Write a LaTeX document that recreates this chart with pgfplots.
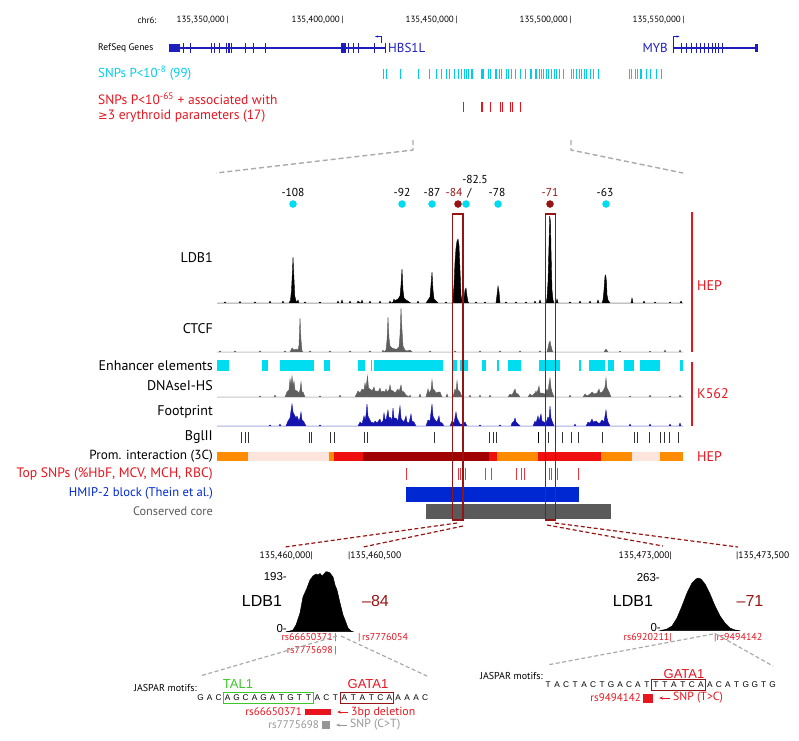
\documentclass[border=0pt]{standalone}
\usepackage{pgfplots}
\pgfplotsset{compat=1.18}
\usetikzlibrary{arrows.meta}
\usepackage{fontspec}
\setmainfont{PT Sans}
\newfontfamily\arial{Liberation Sans}
\newfontfamily\dejavu{DejaVu Sans}
\newcommand\fs[1]{\fontsize{#1}{#1}\selectfont}
\definecolor{gblue}{RGB}{30,30,190}
\definecolor{snpcyan}{RGB}{0,205,235}
\definecolor{encyan}{RGB}{0,220,240}
\definecolor{myred}{RGB}{232,20,30}
\definecolor{dred}{RGB}{150,20,20}
\definecolor{trgray}{RGB}{95,95,95}
\definecolor{fpblue}{RGB}{20,20,175}
\definecolor{orng}{RGB}{255,140,0}
\definecolor{lpink}{RGB}{253,228,220}
\definecolor{redtc}{RGB}{240,15,15}
\definecolor{dredtc}{RGB}{160,0,0}
\definecolor{hmip}{RGB}{0,40,210}
\definecolor{cgray}{RGB}{90,90,90}
\definecolor{dgray}{RGB}{170,170,170}
\definecolor{talgreen}{RGB}{60,200,40}
\definecolor{snpgray}{RGB}{150,150,150}
\newcommand{\rect}[5]{\addplot[fill=#5,draw=none,forget plot] coordinates {(#1,#3) (#2,#3) (#2,#4) (#1,#4)} -- cycle;}
\newcommand{\sq}[1]{\makebox[8.98pt]{#1}}
\def\seq#1{\ifx#1\relax\else\sq{#1}\expandafter\seq\fi}
\begin{document}
\begin{tikzpicture}
\begin{axis}[at={(0,0)}, anchor=north west, width=799pt, height=740pt, scale only axis,
  xmin=0, xmax=799, ymin=0, ymax=740, y dir=reverse, hide axis, clip=false]
\addplot[draw=none, forget plot] coordinates {(0,0) (799,740)};

% ---------------- top genome browser ----------------
\node[anchor=east, font=\fs{9}] at (160,20) {chr6:};
\node[anchor=east, font=\fs{9}] at (232,20) {135,350,000\,|};
\node[anchor=east, font=\fs{9}] at (347,20) {135,400,000\,|};
\node[anchor=east, font=\fs{9}] at (461,20) {135,450,000\,|};
\node[anchor=east, font=\fs{9}] at (575,20) {135,500,000\,|};
\node[anchor=east, font=\fs{9}] at (688,20) {135,550,000\,|};

\node[anchor=west, font=\fs{9.5}, inner sep=0] at (98,48) {RefSeq Genes};
% HBS1L
\addplot[gblue, line width=1.2pt] coordinates {(169,48) (385,48)};
\rect{169}{180}{44}{52}{gblue}
\rect{341}{345.5}{43}{53}{gblue}
\addplot[only marks, gblue, mark=|, mark size=5pt, mark options={line width=0.9pt}] coordinates {
(183,48) (190,48) (211,48) (214,48) (219,48) (226,48) (228,48) (229.5,48) (231,48) (245,48) (253,48) (253.8,48) (265,48) (348,48) (353,48) (358,48) (374,48) (385,48)};
\addplot[gblue, line width=0.7pt, -{Stealth[length=3pt]}] coordinates {(381,43) (381,36.5) (375,36.5)};
\node[anchor=west, font=\fs{13}, text=gblue, inner sep=0] at (388,48) {HBS1L};
% MYB
\addplot[gblue, line width=1.2pt] coordinates {(673,48) (757,48)};
\rect{754.5}{757.5}{44}{52}{gblue}
\addplot[only marks, gblue, mark=|, mark size=5pt, mark options={line width=0.9pt}] coordinates {
(673,48) (681,48) (686,48) (691,48) (696,48) (700,48) (704,48) (708,48) (712,48) (715,48) (718,48) (722,48)};
\addplot[gblue, line width=0.7pt, -{Stealth[length=3pt]}] coordinates {(673,43) (673,36.5) (679.5,36.5)};
\node[anchor=east, font=\fs{13}, text=gblue, inner sep=0] at (668,48) {MYB};

% SNP rows
\node[anchor=west, font=\fs{13}, text=snpcyan, inner sep=0] at (98,73) {SNPs P<10\textsuperscript{-8} (99)};
\addplot[only marks, snpcyan, mark=|, mark size=5pt, mark options={line width=0.8pt}] coordinates {
(383,73.5) (386,73.5) (400,73.5) (418.3,73.5) (429.3,73.5) (436,73.5) (441.7,73.5) (446.7,73.5) (449.3,73.5) (454,73.5) (458.3,73.5) (461.7,73.5) (464,73.5) (466,73.5) (468.3,73.5) (471.7,73.5) (472.7,73.5) (481,73.5) (482,73.5) (483.3,73.5) (488.3,73.5) (490.7,73.5) (495,73.5) (496.7,73.5) (499.3,73.5) (501.7,73.5) (506.7,73.5) (508.3,73.5) (511.7,73.5) (515,73.5) (520,73.5) (525,73.5) (530,73.5) (531.7,73.5) (535,73.5) (536.7,73.5) (539.3,73.5) (541.7,73.5) (543.3,73.5) (546,73.5) (548.3,73.5) (551.7,73.5) (554,73.5) (556.7,73.5) (559.3,73.5) (563.3,73.5) (571.7,73.5) (573.3,73.5) (576,73.5) (579.3,73.5) (581.7,73.5) (584,73.5) (586.7,73.5) (590,73.5) (593.3,73.5) (598.3,73.5)
(629.3,73.5) (631.7,73.5) (635,73.5) (637.3,73.5) (640.7,73.5) (641.7,73.5) (646,73.5) (650.7,73.5) (656,73.5) (661.7,73.5)};
\node[anchor=west, font=\fs{13.5}, text=myred, inner sep=0] at (98,99) {SNPs P<10\textsuperscript{-65} + associated with};
\node[anchor=west, font=\fs{13.5}, text=myred, inner sep=0] at (98,116) {{\dejavu\fs{11.5}≥}3 erythroid parameters (17)};
\addplot[only marks, myred, mark=|, mark size=5pt, mark options={line width=0.8pt}] coordinates {
(463.3,107) (481,107) (482.7,107) (490,107) (500,107) (502.7,107) (510,107) (512.7,107) (520,107)};

% zoom dashed lines
\addplot[dgray, line width=1.4pt, dash pattern=on 5pt off 3pt] coordinates {(413,140) (413,150) (216,173)};
\addplot[dgray, line width=1.4pt, dash pattern=on 5pt off 3pt] coordinates {(571,140) (571,150) (683,173)};

% ---------------- enhancer labels & dots ----------------
\node[font=\fs{11.5}] at (293,192) {-108};
\node[font=\fs{11.5}] at (402,192) {-92};
\node[font=\fs{11.5}] at (432,192) {-87};
\node[font=\fs{11.5}, text=dred] at (454,192) {-84};
\node[font=\fs{11.5}] at (475,179) {-82.5};
\node[font=\fs{11.5}] at (469.5,193) {/};
\node[font=\fs{11.5}] at (497,192) {-78};
\node[font=\fs{11.5}, text=dred] at (550,192) {-71};
\node[font=\fs{11.5}] at (605,192) {-63};
\addplot[only marks, mark=*, mark size=3.5pt, color=encyan] coordinates {(293,204) (402,204) (432,204) (466,204) (498,204) (606,204)};
\addplot[only marks, mark=*, mark size=3.5pt, color=dred] coordinates {(458,204) (550,204)};

% ---------------- track labels ----------------
\node[anchor=east, font=\fs{14}, inner sep=0] at (213,258) {LDB1};
\node[anchor=east, font=\fs{14}, inner sep=0] at (213,329) {CTCF};
\node[anchor=east, font=\fs{14}, inner sep=0] at (213,366) {Enhancer elements};
\node[anchor=east, font=\fs{14}, inner sep=0] at (213,386) {DNAseI-HS};
\node[anchor=east, font=\fs{14}, inner sep=0] at (213,412) {Footprint};
\node[anchor=east, font=\fs{14}, inner sep=0] at (213,437) {BglII};
\node[anchor=east, font=\fs{13.2}, inner sep=0] at (213,456) {Prom. interaction (3C)};
\node[anchor=east, font=\fs{13.7}, text=myred, inner sep=0] at (213,474) {Top SNPs (\%HbF, MCV, MCH, RBC)};
\node[anchor=east, font=\fs{12.6}, text=hmip, inner sep=0] at (213,493) {HMIP-2 block (Thein et al.)};
\node[anchor=east, font=\fs{12.3}, text=cgray, inner sep=0] at (213,511) {Conserved core};

% LDB1 track
\addplot[fill=black, draw=black, line width=0.4pt] coordinates {
(217,303) (224,303)(225,302)(226,303) (239,303)(240,301.5)(241,303) (254,303)(255,302)(256,303) (269,303)(270,301)(271,303) (282,303)(283,301)(284,303)
(289,303)(290.5,300)(291.5,290)(292.5,270)(293,257)(293.8,275)(294.8,296)(296,301)(297,302)(298,300)(299,303)
(304,303)(305,302)(306,303) (319,303)(320,302)(321,303) (337,303)(338,301)(339,303)(341,303)(342,300)(343,303) (349,303)(350,301)(351,303)
(357,303)(358,301)(359,302)(361,303)(362,300)(363,303) (369,303)(370,301)(371,303) (379,303)(380,301)(381,303)
(389,303)(390,301)(391,303)(393,302)(394,299)(395,301)(396,300)(398,299)(400,296)(401,285)(402,269)(403,290)(404,298)(406,300)(408,301)(409,302)(411,303)
(417,303)(418,301)(419,303) (426,303)(428,300)(430,297)(431,285)(432,272)(433,290)(434,299)(436,301)(438,303)
(445,303)(446,302)(447,303)
(452,303)(453,299)(454,285)(455,262)(456,248)(457,241)(458,239)(459,245)(460,270)(461,295)(462,301)(463,302)(464,298)(465,290)(466,288)(467,296)(468,302)(469,303)
(475,303)(476,302)(477,303) (484,303)(485,302)(486,303) (496,303)(497,295)(498,286)(499,292)(500,303)
(505,303)(506,302)(507,303) (515,303)(516,302)(517,303) (525,303)(526,302)(527,303) (534,303)(535,301)(536,303)(539,303)(540,300)(541,303)
(546,303)(547,298)(548,282)(549,245)(549.7,216)(550.5,222)(551,250)(552,290)(553,300)(554,303)(556,303)(557,299)(558,303)
(569,303)(570,302)(571,303) (579,303)(580,301)(581,303) (589,303)(590,301)(591,303) (597,303)(598,300)(599,303)
(602,303)(603,300)(604,290)(605,276)(605.7,275)(606.5,282)(607,295)(608,300)(610,303)
(631,303)(632,298)(633,303) (643,303)(644,301)(645,303) (654,303)(655,302)(656,303) (669,303)(670,302)(671,303) (680,303)(681,301)(682,303) (683,303)} -- cycle;

% CTCF track
\addplot[fill=trgray, draw=trgray, line width=0.4pt] coordinates {
(217,352)(219,352)(220,351)(221,352)(234,352)(235,351)(236,352)(259,352)(260,351)(261,352)(284,352)(285,351)(286,352)(290,352)(292,348)(294,350)(296,349)(298,350)(299,345)(300,318)(301,340)(302,351)(303,352)
(309,352)(310,351)(311,352)(329,352)(330,351)(331,352)(349,352)(350,351)(351,352)(369,352)(370,351)(371,352)(382,352)(383,350)(384,352)
(386,350)(387,340)(388,317)(389,338)(390,346)(392,348)(395,349)(397,349)(399,347)(400,335)(401,308)(402,330)(403,346)(405,350)(407,351)(410,350)(412,352)
(429,352)(430,351)(431,352)(454,352)(455,351)(456,352)(479,352)(480,351)(481,352)(499,352)(500,351)(501,352)(519,352)(520,351)(521,352)(539,352)(540,351)(541,352)
(547,352)(548,348)(549,343)(550,341)(551,346)(552,350)(553,352)(604,352)(606,349)(608,352)(619,352)(620,351)(621,352)(649,352)(650,351)(651,352)(664,352)(665,350)(666,352)(679,352)(680,350)(681,352)(683,352)} -- cycle;

% HEP / K562 bars
\addplot[myred, line width=2.6pt] coordinates {(692,212) (692,352)};
\addplot[myred, line width=2.6pt] coordinates {(692,362) (692,426)};
\node[anchor=west, font=\fs{14}, text=myred, inner sep=0] at (697,286) {HEP};
\node[anchor=west, font=\fs{14}, text=myred, inner sep=0] at (697,394) {K562};
\node[anchor=west, font=\fs{14}, text=myred, inner sep=0] at (697,457) {HEP};

% Enhancer elements
\rect{217}{229}{360}{371}{encyan}
\rect{262}{268}{360}{371}{encyan}
\rect{280}{314}{360}{371}{encyan}
\rect{324}{330}{360}{371}{encyan}
\rect{358}{365}{360}{371}{encyan}
\rect{371}{372}{360}{371}{encyan}
\rect{374}{443}{360}{371}{encyan}
\rect{453}{457}{360}{371}{encyan}
\rect{460}{468}{360}{371}{encyan}
\rect{482}{486}{360}{371}{encyan}
\rect{497}{499}{360}{371}{encyan}
\rect{508}{521}{360}{371}{encyan}
\rect{539}{560}{360}{371}{encyan}
\rect{579}{581}{360}{371}{encyan}
\rect{589}{605}{360}{371}{encyan}
\rect{608}{614}{360}{371}{encyan}
\rect{624}{634}{360}{371}{encyan}
\rect{640}{660}{360}{371}{encyan}
\rect{680}{683}{360}{371}{encyan}

% DNaseI-HS
\addplot[fill=trgray, draw=trgray, line width=0.4pt] coordinates {
(217,397)(259,397)(260,396)(261,397)(274,397)(275,395)(276,397)(285,397)(287,392)(289,390)(290,379)(291,385)(292,376)(293,386)(294,381)(295,390)(297,391)(299,393)(300,390)(301,382)(302,392)(303,392)(305,397)
(319,397)(320,396)(321,397)(339,397)(340,395)(341,397)(355,397)(357,393)(358,391)(360,393)(362,389)(364,390)(365,383)(366,388)(367.5,376)(368.5,388)(370,389)(372,391)(374,387)(375,391)(377,391)(378,392)(380,388)(381,392)(383,391)(385,392)(386,389)(387,392)(389,390)(390,385)(391,390)(393,391)(395,393)(398,389)(399,392)(401,385)(402,391)(404,392)(406,395)(409,397)(410,395)(411,397)(419,397)(420,394)(421,397)
(426,397)(428,389)(429,393)(431,390)(432,380)(433,389)(435,391)(436,393)(438,392)(440,392)(442,397)(446,397)(447,394)(448,397)(453,397)(455,389)(456,392)(457,381)(458,390)(460,392)(462,397)
(469,397)(470,395)(471,397)(479,397)(480,395)(481,397)(489,397)(490,395)(491,397)(508,397)(510,394)(512,395)(514,391)(515,389)(516,393)(518,394)(520,397)
(528,397)(530,394)(532,396)(535,393)(536,391)(537,393)(539,386)(540,393)(542,393)(545,394)(547,389)(548,392)(549,384)(550,378)(551,388)(552,392)(554,397)
(569,397)(570,395)(571,397)(583,397)(585,394)(587,396)(590,394)(592,392)(594,394)(597,393)(599,389)(600,393)(602,392)(603,391)(605,387)(606,378)(607,388)(609,392)(611,397)
(629,397)(630,396)(631,397)(649,397)(650,395)(651,397)(669,397)(670,396)(671,397)(679,397)(680,395)(681,397)(683,397)} -- cycle;

% Footprint
\addplot[fill=fpblue, draw=fpblue, line width=0.4pt] coordinates {
(217,426)(269,426)(270,425)(271,426)(279,426)(280,424)(281,426)(286,426)(288,421)(290,418)(291,411)(292,404)(293,412)(294,414)(296,418)(297,416)(299,421)(300,418)(301,412)(302,420)(304,422)(306,426)
(319,426)(320,425)(321,426)(358,426)(360,422)(362,424)(364,416)(365,420)(366,415)(367,404)(368,416)(369,418)(371,422)(374,423)(375,421)(377,423)(380,419)(381,423)(383,421)(384,413)(385,419)(386,420)(388,410)(389,419)(390,417)(392,420)(393,408)(394,418)(396,418)(398,421)(400,406)(401,418)(402,420)(404,422)(406,416)(407,422)(409,423)(411,414)(412,421)(414,422)(416,426)
(426,426)(428,420)(430,421)(432,404)(433,416)(435,420)(437,422)(439,416)(440,422)(442,423)(444,426)(450,426)(452,421)(454,423)(456,412)(457,418)(458,420)(460,424)(463,424)(465,422)(467,426)
(479,426)(480,425)(481,426)(499,426)(500,425)(501,426)(511,426)(512,423)(514,421)(515,418)(516,422)(518,424)(520,426)
(533,426)(535,421)(536,423)(538,416)(539,421)(541,414)(542,421)(544,422)(546,423)(548,417)(549,420)(550,406)(551,418)(552,421)(554,426)
(574,426)(575,424)(576,426)(586,426)(588,422)(590,423)(592,419)(593,422)(596,421)(598,423)(600,423)(602,420)(604,422)(606,410)(607,418)(608,422)(610,426)
(629,426)(630,424)(631,426)(649,426)(650,424)(651,426)(669,426)(670,424)(671,426)(679,426)(680,423)(681,426)(683,426)} -- cycle;

% BglII
\addplot[only marks, black!80, mark=|, mark size=5.5pt, mark options={line width=0.7pt}] coordinates {
(241,437.5)(245,437.5)(248,437.5)(309,437.5)(311,437.5)(330,437.5)(334,437.5)(364,437.5)(367.5,437.5)(434,437.5)(489.5,437.5)(493,437.5)(496.5,437.5)(548,437.5)(555,437.5)(562,437.5)(571,437.5)(578.6,437.5)(602.5,437.5)(634,437.5)(637.5,437.5)(649,437.5)(660,437.5)(664,437.5)(669,437.5)(678,437.5)};
\addplot[only marks, black, mark=|, mark size=5.5pt, mark options={line width=1.2pt}] coordinates {(538.6,437.5)};

% Promoter interaction (3C)
\rect{217}{248}{452}{461}{orng}
\rect{248}{329}{452}{461}{lpink}
\rect{329}{334}{452}{461}{orng}
\rect{334}{363}{452}{461}{redtc}
\rect{363}{488.5}{452}{461}{dredtc}
\rect{488.5}{496.5}{452}{461}{redtc}
\rect{496.5}{537.6}{452}{461}{orng}
\rect{537.6}{601.4}{452}{461}{redtc}
\rect{601.4}{632}{452}{461}{orng}
\rect{632}{660}{452}{461}{lpink}
\rect{660}{683}{452}{461}{orng}

% Top SNPs
\addplot[only marks, myred!85, mark=|, mark size=6pt, mark options={line width=0.8pt}] coordinates {
(406,474)(458,474)(460.4,474)(465.7,474)(485,474)(491,474)(516.5,474)(521,474)(524.6,474)(549,474)(551.6,474)(557,474)(578.6,474)};

% HMIP-2 block and conserved core
\rect{406}{579}{487}{502}{hmip}
\rect{426}{610.5}{504}{519}{cgray}

% red boxes
\addplot[dred, line width=1.5pt] coordinates {(452.3,214) (463,214) (463,520) (452.3,520)} -- cycle;
\addplot[dred, line width=1.5pt] coordinates {(545.6,214) (555.5,214) (555.5,520) (545.6,520)} -- cycle;

% ---------------- bottom zooms ----------------
\addplot[dred, line width=1.2pt, dash pattern=on 4pt off 2.5pt] coordinates {(457,523) (285,547)};
\addplot[dred, line width=1.2pt, dash pattern=on 4pt off 2.5pt] coordinates {(463,526) (363,547)};
\addplot[dred, line width=1.2pt, dash pattern=on 4pt off 2.5pt] coordinates {(547,525) (663,546)};
\addplot[dred, line width=1.2pt, dash pattern=on 4pt off 2.5pt] coordinates {(555,523) (738,547)};

\node[anchor=east, font=\fs{9.5}, inner sep=0] at (313,556) {135,460,000|};
\node[anchor=west, font=\fs{9.5}, inner sep=0] at (348,556) {|135,460,500};
\node[anchor=east, font=\fs{9.5}, inner sep=0] at (672,556) {135,473,000|};
\node[anchor=west, font=\fs{9.5}, inner sep=0] at (736,556) {|135,473,500};

% left zoom: -84
\node[anchor=east, font=\arial\fs{11.5}, inner sep=0] at (287,577) {193-};
\node[anchor=east, font=\arial\fs{11.5}, inner sep=0] at (287,629) {0-};
\node[font=\arial\fs{16}] at (262,601) {LDB1};
\node[font=\arial\fs{16}, text=dred] at (375.5,601) {–84};
\addplot[fill=black, draw=black, line width=0.5pt] coordinates {
(286,631.7)(290,631)(293,630)(296,625)(300,613)(303,597)(307,588)(310,580)(313,576)(316,574)(318,575)(320,573.5)(322,576)(324,574)(326,571.7)(328,572)(330,573)(333,577)(335,585)(337,590)(340,603)(343,615)(345,620)(348,628)(351,631)(353,631.7)} -- cycle;
\node[anchor=east, font=\fs{10}, text=myred, inner sep=0] at (337,638) {rs66650371\,|};
\node[anchor=west, font=\fs{10}, text=myred, inner sep=0] at (358,638) {|\,rs7776054};
\node[anchor=east, font=\fs{10}, text=myred, inner sep=0] at (337,651) {rs7775698\,|};
\addplot[dgray, line width=1.2pt, dash pattern=on 4pt off 2.5pt] coordinates {(337,636) (200,676)};
\addplot[dgray, line width=1.2pt, dash pattern=on 4pt off 2.5pt] coordinates {(341,636) (427,676)};

\node[anchor=east, font=\fs{10}, inner sep=0] at (197,688) {JASPAR motifs:};
\node[font=\arial\fs{13}, text=talgreen] at (238,684) {TAL1};
\node[font=\arial\fs{13}, text=myred] at (368,684) {GATA1};
\node[anchor=west, font=\arial\fs{8.3}, inner sep=0] at (196,698) {\seq GACAGCAGATGTTACTATATCAAAAC\relax};
\addplot[talgreen, line width=1pt] coordinates {(223,692) (313,692) (313,703.5) (223,703.5)} -- cycle;
\addplot[dred, line width=1pt] coordinates {(340,692) (393,692) (393,703.5) (340,703.5)} -- cycle;
\node[anchor=east, font=\fs{11}, text=myred, inner sep=0] at (302,712) {rs66650371};
\rect{305}{331}{709}{715}{myred}
\addplot[myred, line width=0.9pt, -{Stealth[length=4pt]}] coordinates {(348,712) (337,712)};
\node[anchor=west, font=\fs{11.8}, text=myred, inner sep=0] at (351,712) {3bp deletion};
\node[anchor=east, font=\fs{11}, text=snpgray, inner sep=0] at (319,725) {rs7775698};
\rect{322}{330}{721}{729}{snpgray}
\addplot[snpgray, line width=0.9pt, -{Stealth[length=4pt]}] coordinates {(347,725) (336,725)};
\node[anchor=west, font=\fs{11.8}, text=snpgray, inner sep=0] at (350,725) {SNP (C>T)};

% right zoom: -71
\node[anchor=east, font=\arial\fs{11.5}, inner sep=0] at (660,578) {263-};
\node[anchor=east, font=\arial\fs{11.5}, inner sep=0] at (661,628) {0-};
\node[font=\arial\fs{16}] at (633,601) {LDB1};
\node[font=\arial\fs{16}, text=dred] at (750,601) {–71};
\addplot[fill=black, draw=black, line width=0.5pt] coordinates {
(660,630.7)(667,629)(672,626)(677,618)(682,606)(687,593)(692,583)(696,579)(698,578)(701,579)(705,584)(710,594)(715,606)(720,616)(725,623)(730,628)(735,630)(740,630.7)} -- cycle;
\node[anchor=east, font=\fs{10}, text=myred, inner sep=0] at (672,638) {rs6920211|};
\node[anchor=west, font=\fs{10}, text=myred, inner sep=0] at (714,638) {|rs9494142};
\addplot[dgray, line width=1.2pt, dash pattern=on 4pt off 2.5pt] coordinates {(713,634) (547,665)};
\addplot[dgray, line width=1.2pt, dash pattern=on 4pt off 2.5pt] coordinates {(716,634) (773,666)};

\node[anchor=east, font=\fs{10}, inner sep=0] at (543,676) {JASPAR motifs:};
\node[font=\arial\fs{13}, text=myred] at (684,674) {GATA1};
\node[anchor=west, font=\arial\fs{8.3}, inner sep=0] at (543.5,685) {\seq TACTACTGACATTTATCAACATGGTG\relax};
\addplot[dred, line width=1pt] coordinates {(651.5,679.5) (705.5,679.5) (705.5,690.5) (651.5,690.5)} -- cycle;
\node[anchor=east, font=\fs{11}, text=myred, inner sep=0] at (641,698) {rs9494142};
\rect{643}{653}{694}{703}{myred}
\addplot[myred, line width=0.9pt, -{Stealth[length=4pt]}] coordinates {(670,698) (659,698)};
\node[anchor=west, font=\fs{11.8}, text=myred, inner sep=0] at (673,698) {SNP (T>C)};

\end{axis}
\end{tikzpicture}
\end{document}
